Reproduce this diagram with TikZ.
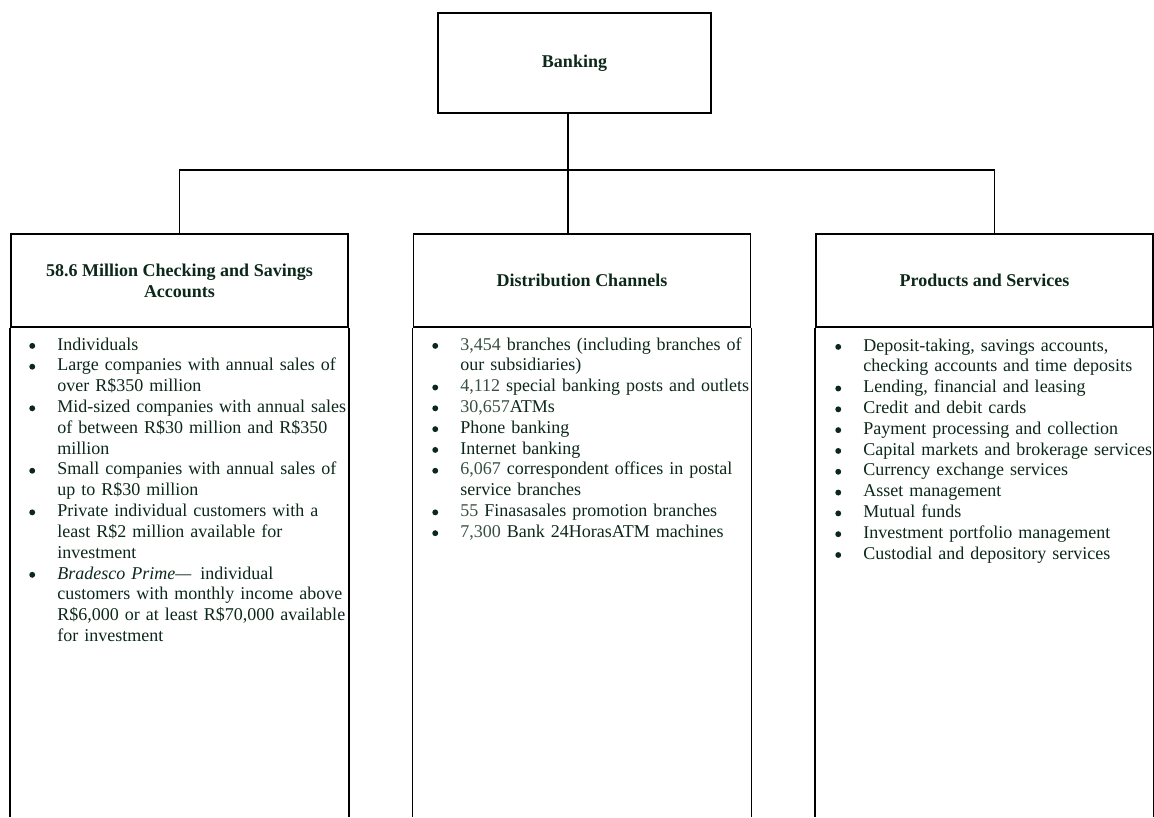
\documentclass[tikz,border=0pt]{standalone}
\usepackage{fontspec}
\setmainfont{Liberation Serif}
\usepackage{enumitem}
\definecolor{inkgreen}{RGB}{12,40,26}
\definecolor{numgreen}{RGB}{55,80,65}
\newcommand\listdot{\tikz[baseline=-3pt]\fill[inkgreen] (0,0) circle (2.1pt);}
\setlist[itemize]{label=\listdot,nosep,leftmargin=0.7cm,labelwidth=0.7cm,labelsep=0pt,align=left}
\newcommand\chartfont{\fontsize{12.8pt}{14.8pt}\selectfont}
\newcommand\figs[1]{\textcolor{numgreen}{#1}}

\begin{document}
\begin{tikzpicture}[x=0.025cm,y=-0.025cm,line width=1.3pt,
  every node/.style={text=inkgreen,font=\chartfont},
  head/.style={draw,inner sep=0pt,align=center,font=\chartfont\bfseries,
    minimum width=8.425cm,minimum height=2.325cm},
  list/.style={anchor=north west,inner sep=0pt,text width=9cm,align=left}]
\useasboundingbox (0,0) rectangle (1154,817);

\node[draw,inner sep=0pt,minimum width=6.825cm,minimum height=2.5cm,font=\chartfont\bfseries] (bank) at (574.5,63) {Banking};

\node[head] (acct) at (179.5,280.5) {58.6 Million Checking and Savings\\Accounts};
\node[head] (chan) at (582,280.5) {Distribution Channels};
\node[head] (prod) at (984.5,280.5) {Products and Services};

% tree lines
\coordinate (bus) at (568,170);
\coordinate (floor) at (0,817);
\draw (bank.south -| bus) -- (bus |- chan.north);
\draw (acct.north) |- (bus) -| ([xshift=0.25cm]prod.north);

% open columns below the headings
\foreach \n in {acct,chan,prod}
  \draw (\n.south west) -- (\n.south west |- floor)
        (\n.south east) -- (\n.south east |- floor);

\node[list] (custs) at (29,329) {\begin{itemize}
  \item Individuals
  \item Large companies with annual sales of\newline over R\$350 million
  \item Mid-sized companies with annual sales\newline of between R\$30 million and R\$350\newline million
  \item Small companies with annual sales of\newline up to R\$30 million
  \item Private individual customers with a\newline least R\$2 million available for\newline investment
  \item \textit{Bradesco Prime—}\enspace individual\newline customers with monthly income above\newline R\$6,000 or at least R\$70,000 available\newline for investment
\end{itemize}};

\node[list] (outlets) at (432,329) {\begin{itemize}
  \item \figs{3,454} branches (including branches of\newline our subsidiaries)
  \item \figs{4,112} special banking posts and outlets
  \item \figs{30,657}ATMs
  \item Phone banking
  \item Internet banking
  \item \figs{6,067} correspondent offices in postal\newline service branches
  \item \figs{55} Finasasales promotion branches
  \item \figs{7,300} Bank 24HorasATM machines
\end{itemize}};

\node[list] (offers) at (835,330) {\begin{itemize}
  \item Deposit-taking, savings accounts,\newline checking accounts and time deposits
  \item Lending, financial and leasing
  \item Credit and debit cards
  \item Payment processing and collection
  \item Capital markets and brokerage services
  \item Currency exchange services
  \item Asset management
  \item Mutual funds
  \item Investment portfolio management
  \item Custodial and depository services
\end{itemize}};
\end{tikzpicture}
\end{document}
